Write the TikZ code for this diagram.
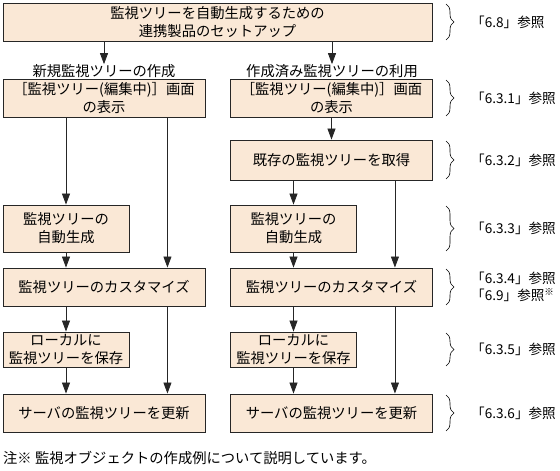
\documentclass[tikz,border=0pt]{standalone}
\usepackage{fontspec}
\setmainfont{Noto Sans CJK JP}
\usetikzlibrary{arrows.meta,decorations.pathreplacing}
\definecolor{boxfill}{RGB}{250,232,214}

\begin{document}
\begin{tikzpicture}[%
x=1pt, y=-1pt,
box/.style={draw=black!85, fill=boxfill, line width=0.9pt, align=center, inner sep=0pt, font=\fontsize{14.3}{18}\selectfont},
widebox/.style={box, minimum width=202pt, minimum height=38pt},
narrowbox/.style={box, minimum width=126pt},
flow/.style={draw=black!85, line width=0.8pt, -{Triangle[length=11pt,width=8pt]}},
refbrace/.style={decorate, decoration={brace, amplitude=8pt}, line width=0.6pt},
reftext/.style={anchor=west, inner sep=0pt, font=\fontsize{13.6}{17}\selectfont, align=left},
]
\useasboundingbox (0,0) rectangle (560,471);
%% top box;
\node [box, minimum width=429pt, minimum height=38pt] (setup) at (217.5,22) {監視ツリーを自動生成するための\\連携製品のセットアップ};
%% column labels;
\node [inner sep=0pt, font=\fontsize{14.3}{17}\selectfont] (newlbl) at (104,71) {新規監視ツリーの作成};
\node [inner sep=0pt, font=\fontsize{14.3}{17}\selectfont] (uselbl) at (332,71) {作成済み監視ツリーの利用};
%% left column;
\node [widebox] (newshow) at (104,98) {［監視ツリー(編集中)］画面\\の表示};
\node [narrowbox, minimum height=47pt] (newauto) at (66,228.5) {監視ツリーの\\自動生成};
\node [widebox] (newcustom) at (104,287) {監視ツリーのカスタマイズ};
\node [narrowbox, minimum height=35pt] (newsave) at (66,349.5) {ローカルに\\監視ツリーを保存};
\node [widebox] (newupdate) at (104,413) {サーバの監視ツリーを更新};
%% right column;
\node [widebox] (useshow) at (331.5,98) {［監視ツリー(編集中)］画面\\の表示};
\node [widebox, minimum height=40pt] (useget) at (331.5,160) {既存の監視ツリーを取得};
\node [narrowbox, minimum height=47pt] (useauto) at (293.5,228.5) {監視ツリーの\\自動生成};
\node [widebox] (usecustom) at (331.5,287) {監視ツリーのカスタマイズ};
\node [narrowbox, minimum height=35pt] (usesave) at (293.5,349.5) {ローカルに\\監視ツリーを保存};
\node [widebox] (useupdate) at (331.5,413) {サーバの監視ツリーを更新};
%% arrows;
\draw [flow] (setup.south -| newlbl.north) -- (newlbl.north);
\draw [flow] (setup.south -| uselbl.north) -- (uselbl.north);
\draw [flow] (newshow.south -| newauto.north) -- (newauto.north);
\draw [flow] ([xshift=-38pt]newshow.south east) -- ([xshift=-38pt]newcustom.north east);
\draw [flow] (newauto.south) -- (newauto.south |- newcustom.north);
\draw [flow] (newcustom.south -| newsave.north) -- (newsave.north);
\draw [flow] ([xshift=-38pt]newcustom.south east) -- ([xshift=-38pt]newupdate.north east);
\draw [flow] (newsave.south) -- (newsave.south |- newupdate.north);
\draw [flow] (useshow.south) -- (useget.north);
\draw [flow] (useget.south -| useauto.north) -- (useauto.north);
\draw [flow] ([xshift=-38pt]useget.south east) -- ([xshift=-38pt]usecustom.north east);
\draw [flow] (useauto.south) -- (useauto.south |- usecustom.north);
\draw [flow] (usecustom.south -| usesave.north) -- (usesave.north);
\draw [flow] ([xshift=-38pt]usecustom.south east) -- ([xshift=-38pt]useupdate.north east);
\draw [flow] (usesave.south) -- (usesave.south |- useupdate.north);
%% braces;
\draw [refbrace] (446,4) -- (446,40);
\node [reftext] (ref68) at (471,22) {「6.8」参照};
\draw [refbrace] (446,80) -- (446,116);
\node [reftext] (ref631) at (471,98) {「6.3.1」参照};
\draw [refbrace] (446,141) -- (446,179);
\node [reftext] (ref632) at (471,160) {「6.3.2」参照};
\draw [refbrace] (446,206) -- (446,251);
\node [reftext] (ref633) at (471,228.5) {「6.3.3」参照};
\draw [refbrace] (446,269) -- (446,305);
\node [reftext] (ref634) at (471,287) {「6.3.4」参照\\「6.9」参照\textsuperscript{※}};
\draw [refbrace] (446,333) -- (446,366);
\node [reftext] (ref635) at (471,349.5) {「6.3.5」参照};
\draw [refbrace] (446,395) -- (446,431);
\node [reftext] (ref636) at (471,413) {「6.3.6」参照};
%% note;
\node [reftext, anchor=west, font=\fontsize{14.3}{17}\selectfont] (note) at (3,458) {注※ 監視オブジェクトの作成例について説明しています。};
\end{tikzpicture}
\end{document}
